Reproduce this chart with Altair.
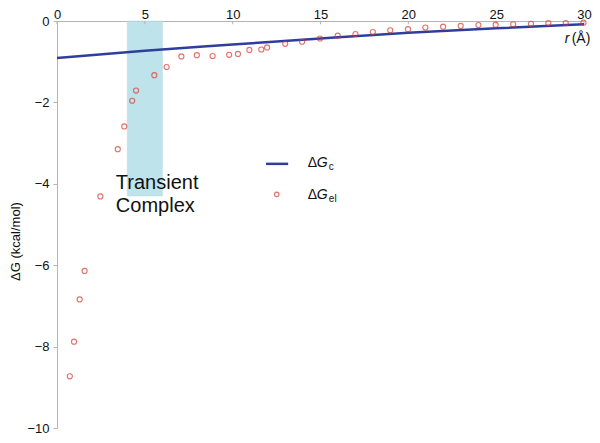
import altair as alt
import pandas as pd

# electrostatic free energy points
r_el = [0.73, 0.97, 1.29, 1.57, 2.47, 3.46, 3.83, 4.28, 4.5, 5.54, 6.24, 7.08, 7.96, 8.86, 9.8,
        10.3, 10.95, 11.63, 11.96, 12.99, 13.95, 14.97, 15.98, 16.99, 17.98, 18.97, 19.98, 20.97,
        21.98, 22.98, 23.99, 24.97, 25.97, 26.98, 27.97, 28.96, 29.97]
dg_el = [-8.73, -7.88, -6.84, -6.14, -4.31, -3.15, -2.59, -1.96, -1.71, -1.33, -1.13, -0.87, -0.84,
         -0.86, -0.83, -0.81, -0.71, -0.70, -0.65, -0.56, -0.51, -0.43, -0.36, -0.32, -0.27, -0.23,
         -0.20, -0.16, -0.14, -0.12, -0.10, -0.09, -0.08, -0.07, -0.05, -0.05, -0.04]

# Coulomb curve
r_c = [0, 5, 10, 15, 20, 25, 30]
dg_c = [-0.91, -0.73, -0.58, -0.43, -0.29, -0.18, -0.08]

# transient complex region
tc_r = [4.0]
tc_r2 = [6.0]
tc_top = [0.0]
tc_bot = [-4.3]

x_ticks = [0, 5, 10, 15, 20, 25, 30]
y_ticks = [0, -2, -4, -6, -8, -10]

FONT = "Liberation Sans"
RED = "#d8362d"
BLUE = "#2f3e9e"
GREY = "#b5b5b5"

xs = alt.Scale(domain=[0, 30], nice=False)
ys = alt.Scale(domain=[-10, 0], nice=False)

df_el = pd.DataFrame({"r": r_el, "g": dg_el})
df_c = pd.DataFrame({"r": r_c, "g": dg_c})
df_tc = pd.DataFrame({"r": tc_r, "r2": tc_r2, "g": tc_top, "g2": tc_bot})

rect = alt.Chart(df_tc).mark_rect(color="#b5dfe7", opacity=0.85, stroke="#a6d4de", strokeWidth=0.5).encode(
    x=alt.X("r:Q", scale=xs, axis=alt.Axis(orient="top", values=x_ticks, title=None, grid=False,
                                            labelFontSize=13, labelFont=FONT, labelColor="#111",
                                            domainColor=GREY, ticks=False, tickSize=0,
                                            labelPadding=3, labelBaseline="alphabetic",
                                            labelFlush=False)),
    x2="r2:Q",
    y=alt.Y("g:Q", scale=ys, axis=alt.Axis(orient="left", values=y_ticks, title="ΔG (kcal/mol)", grid=False,
                                            labelFontSize=13, labelFont=FONT, labelColor="#111",
                                            domainColor=GREY, tickColor=GREY, tickSize=4,
                                            labelPadding=4, titleFont=FONT, titleFontSize=13,
                                            titleFontWeight="normal", titleColor="#111",
                                            titleX=-42, titleY=220, titleBaseline="middle",
                                            labelFlush=False)),
    y2="g2:Q",
)

# inward ticks on the top axis
tick_df = pd.DataFrame({"r": x_ticks, "g": [0.0] * len(x_ticks), "g2": [-0.08] * len(x_ticks)})
xticks = alt.Chart(tick_df).mark_rule(color=GREY, strokeWidth=1).encode(
    x=alt.X("r:Q", scale=xs), y=alt.Y("g:Q", scale=ys), y2="g2:Q")

line = alt.Chart(df_c).mark_line(color=BLUE, strokeWidth=2.5, interpolate="monotone").encode(
    x=alt.X("r:Q", scale=xs), y=alt.Y("g:Q", scale=ys))

pts = alt.Chart(df_el).mark_point(shape="circle", filled=False, color=RED, size=26, strokeWidth=1.1).encode(
    x=alt.X("r:Q", scale=xs), y=alt.Y("g:Q", scale=ys))

# annotation text
tc_text = alt.Chart(pd.DataFrame({"r": [3.35], "g": [-4.14], "t": ["Transient\nComplex"]})).mark_text(
    align="left", baseline="alphabetic", fontSize=20, font=FONT, color="#111", lineBreak="\n", lineHeight=23
).encode(x=alt.X("r:Q", scale=xs), y=alt.Y("g:Q", scale=ys), text="t:N")

# r (Å) axis label
r_lab = alt.Chart(pd.DataFrame({"r": [28.9], "g": [-0.53], "t": ["r"]})).mark_text(
    align="left", baseline="alphabetic", fontSize=14, font=FONT, fontStyle="italic", color="#111"
).encode(x=alt.X("r:Q", scale=xs), y=alt.Y("g:Q", scale=ys), text="t:N")
a_lab = alt.Chart(pd.DataFrame({"r": [29.3], "g": [-0.53], "t": ["(Å)"]})).mark_text(
    align="left", baseline="alphabetic", fontSize=14, font=FONT, color="#111"
).encode(x=alt.X("r:Q", scale=xs), y=alt.Y("g:Q", scale=ys), text="t:N")

# legend
leg_line_df = pd.DataFrame({"r": [11.9, 13.16], "g": [-3.51, -3.51]})
leg_line = alt.Chart(leg_line_df).mark_line(color=BLUE, strokeWidth=2.5).encode(
    x=alt.X("r:Q", scale=xs), y=alt.Y("g:Q", scale=ys))
leg_pt = alt.Chart(pd.DataFrame({"r": [12.51], "g": [-4.26]})).mark_point(
    shape="circle", filled=False, color=RED, size=20, strokeWidth=1.1).encode(
    x=alt.X("r:Q", scale=xs), y=alt.Y("g:Q", scale=ys))

leg_rows = pd.DataFrame({"r": [14.28, 14.28], "g": [-3.585, -4.38], "sub": ["c", "el"]})
leg_delta = alt.Chart(leg_rows).mark_text(align="left", baseline="alphabetic", fontSize=14, font=FONT,
                                          color="#111", text="Δ").encode(
    x=alt.X("r:Q", scale=xs), y=alt.Y("g:Q", scale=ys))
leg_g = alt.Chart(leg_rows).mark_text(align="left", baseline="alphabetic", fontSize=14, font=FONT,
                                      fontStyle="italic", color="#111", text="G", dx=9).encode(
    x=alt.X("r:Q", scale=xs), y=alt.Y("g:Q", scale=ys))
leg_sub = alt.Chart(leg_rows).mark_text(align="left", baseline="alphabetic", fontSize=10, font=FONT,
                                        color="#111", dx=21, dy=3).encode(
    x=alt.X("r:Q", scale=xs), y=alt.Y("g:Q", scale=ys), text="sub:N")

chart = alt.layer(rect, xticks, line, pts, tc_text, r_lab, a_lab, leg_line, leg_pt, leg_delta, leg_g,
                  leg_sub).properties(
    width=527, height=407,
    autosize=alt.AutoSizeParams(type="none"),
    padding={"left": 49, "top": 13, "right": 8, "bottom": 7},
    background="white",
).configure_view(stroke=None)

chart.save("out.html", embed_options={"renderer": "svg", "actions": False})
